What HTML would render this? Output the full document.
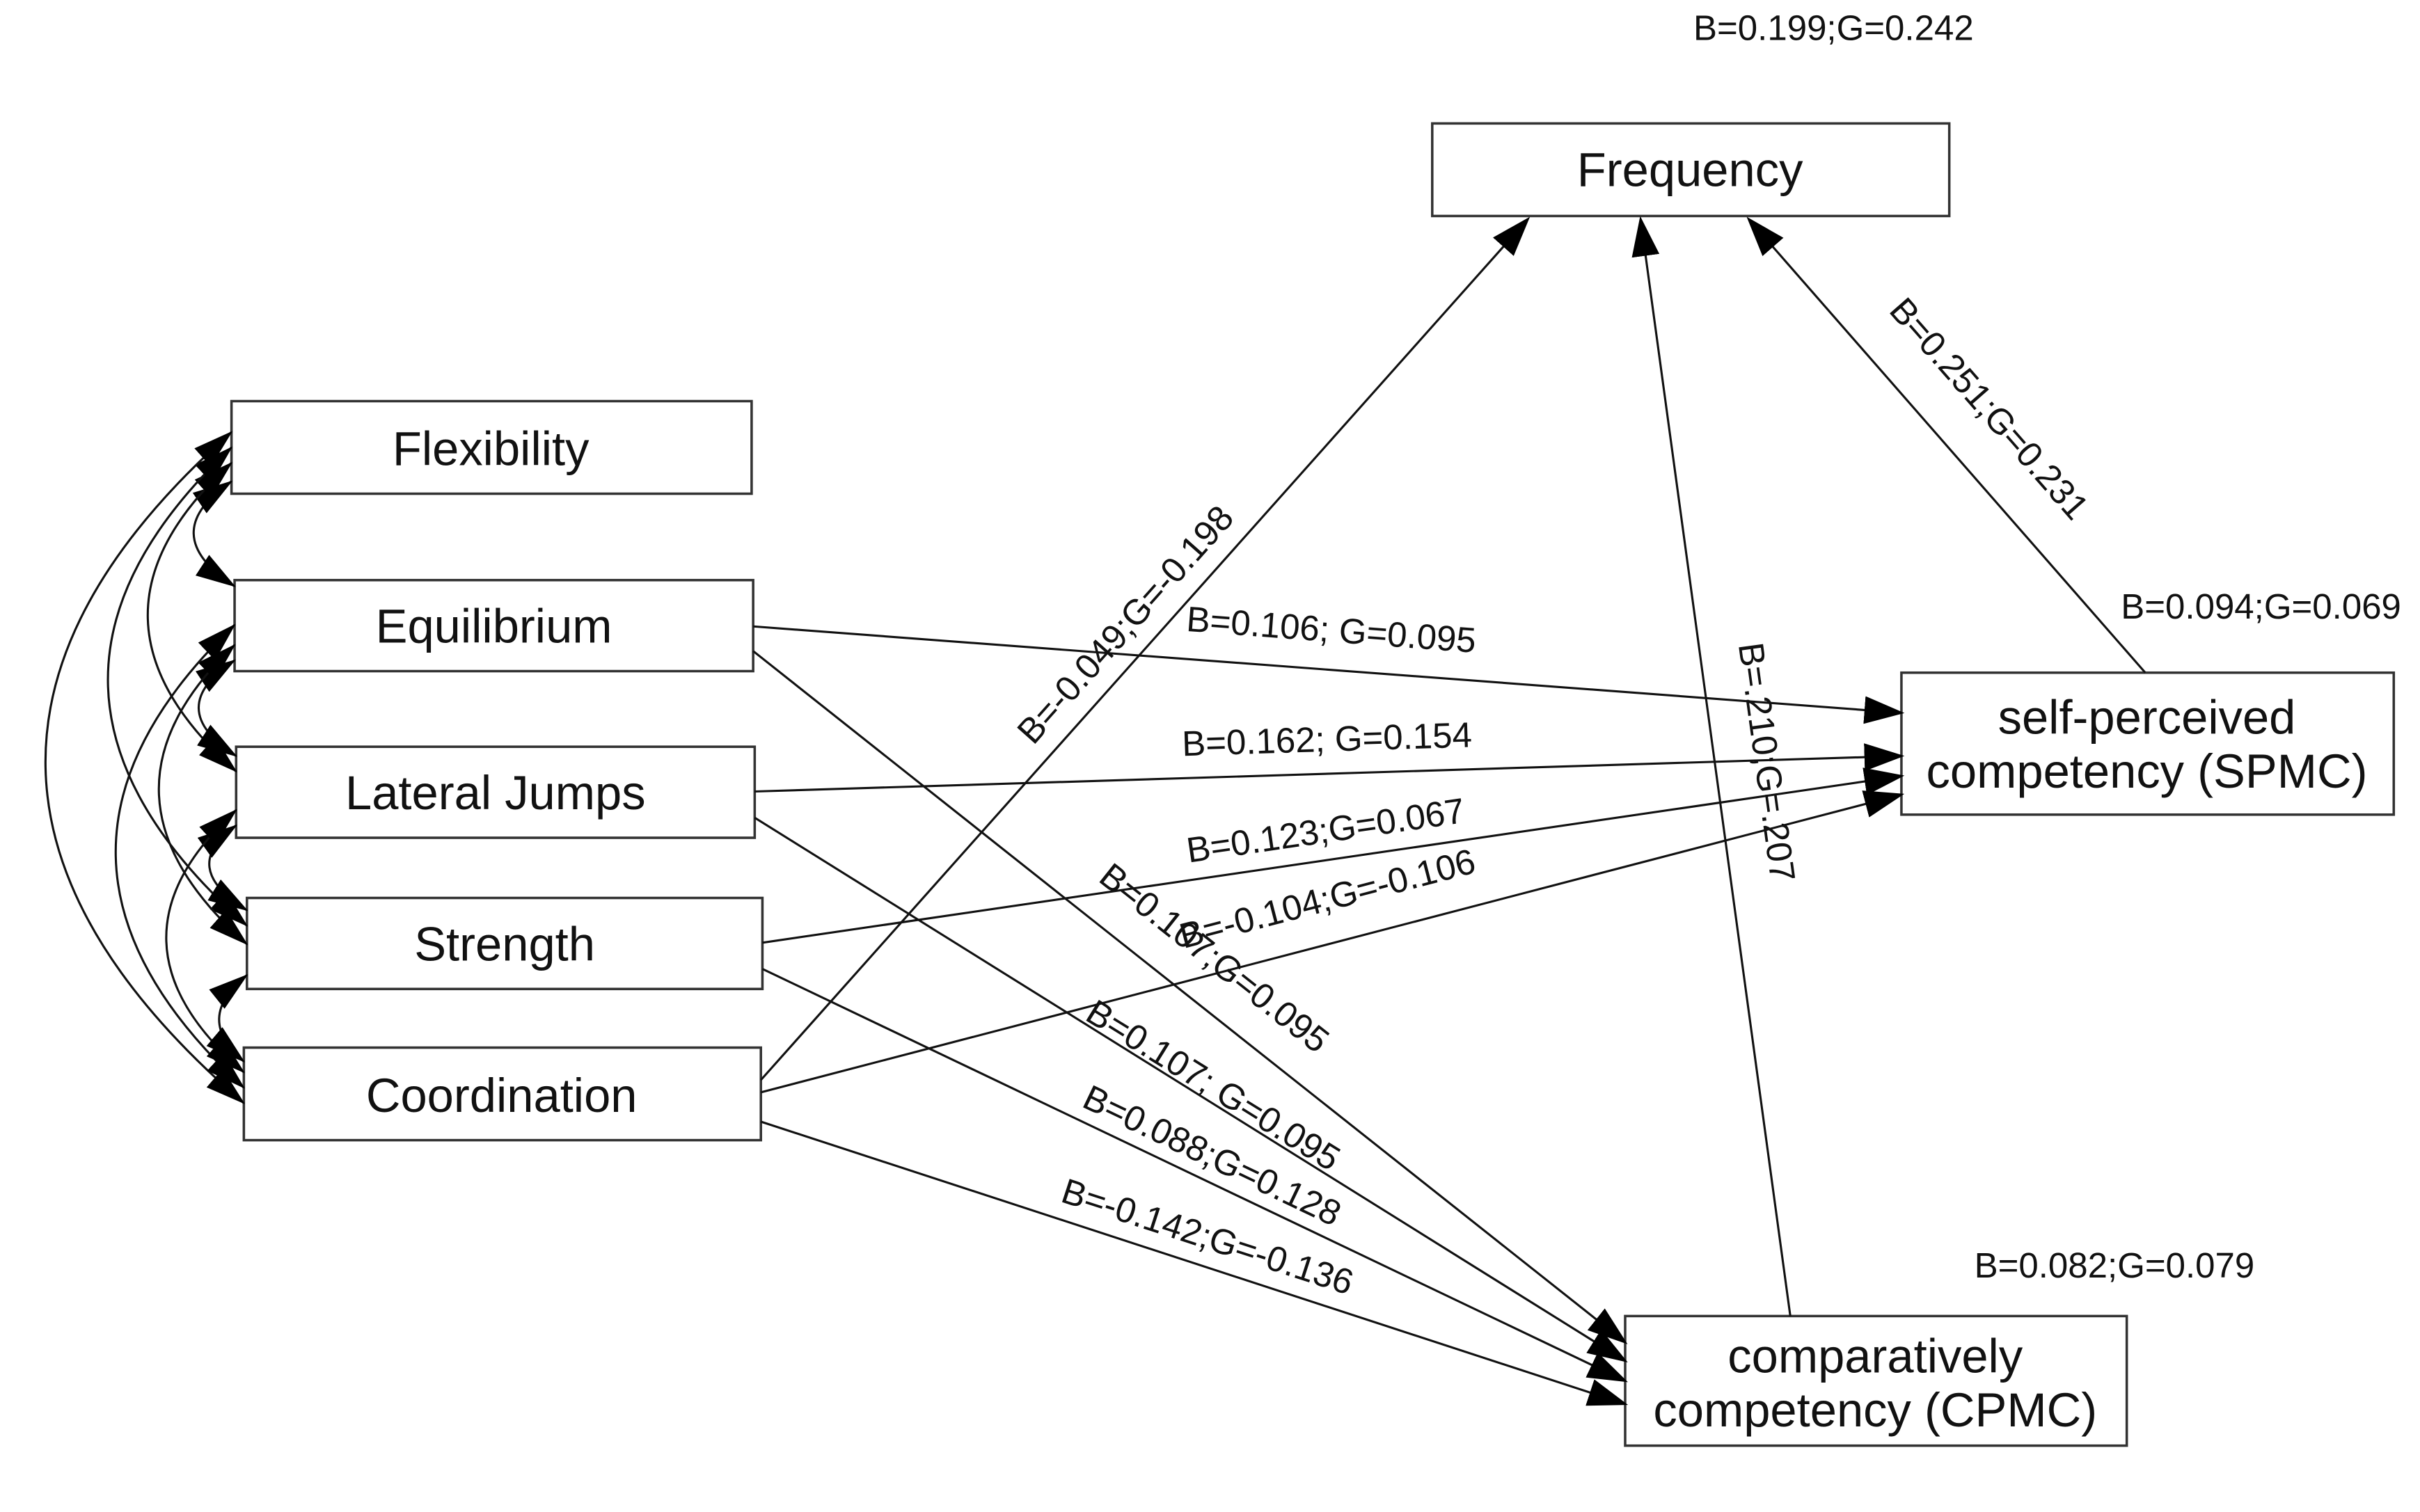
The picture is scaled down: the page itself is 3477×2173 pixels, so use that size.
<!DOCTYPE html>
<html><head><meta charset="utf-8"><style>
html,body{margin:0;padding:0;background:#fff;}
svg{display:block;}
text{font-family:"Liberation Sans",Arial,sans-serif;fill:#111;}
.n{font-size:31px;text-anchor:middle;dominant-baseline:central;}
.e{font-size:23px;text-anchor:middle;}
</style></head><body>
<svg width="3477" height="2173" viewBox="0 0 1568 980" preserveAspectRatio="none" xmlns="http://www.w3.org/2000/svg">
<defs>
<marker id="a" markerUnits="userSpaceOnUse" markerWidth="26" markerHeight="18" refX="24" refY="9" orient="auto-start-reverse">
<path d="M0,0 L26,9 L0,18 Z" fill="#000"/>
</marker>
<marker id="s" markerUnits="userSpaceOnUse" markerWidth="26" markerHeight="16" refX="25" refY="8" orient="auto-start-reverse">
<path d="M0,0 L26,8 L0,16 Z" fill="#000"/>
</marker>
</defs>
<g fill="#fff" stroke="#333" stroke-width="1.6">
<rect x="150" y="260" width="337" height="60"/>
<rect x="152" y="376" width="336" height="59"/>
<rect x="153" y="484" width="336" height="59"/>
<rect x="160" y="582" width="334" height="59"/>
<rect x="158" y="679" width="335" height="60"/>
<rect x="928" y="80" width="335" height="60"/>
<rect x="1232" y="436" width="319" height="92"/>
<rect x="1053" y="853" width="325" height="84"/>
</g>
<g fill="none" stroke="#111" stroke-width="1.4">
<path d="M150,312 Q100,346 152,380" marker-start="url(#s)" marker-end="url(#s)"/>
<path d="M150,300 Q40,400 153,500" marker-start="url(#s)" marker-end="url(#s)"/>
<path d="M150,290 Q-15,445 160,600" marker-start="url(#s)" marker-end="url(#s)"/>
<path d="M150,280 Q-95,497 158,715" marker-start="url(#s)" marker-end="url(#s)"/>
<path d="M152,428 Q105,459 153,490" marker-start="url(#s)" marker-end="url(#s)"/>
<path d="M152,418 Q50,515 160,612" marker-start="url(#s)" marker-end="url(#s)"/>
<path d="M152,405 Q-5,555 158,705" marker-start="url(#s)" marker-end="url(#s)"/>
<path d="M153,535 Q115,562 160,590" marker-start="url(#s)" marker-end="url(#s)"/>
<path d="M153,525 Q60,610 158,695" marker-start="url(#s)" marker-end="url(#s)"/>
<path d="M160,632 Q125,660 158,688" marker-start="url(#s)" marker-end="url(#s)"/>
<line x1="493" y1="700" x2="990" y2="142" marker-end="url(#a)"/>
<line x1="1160" y1="853" x2="1063" y2="142" marker-end="url(#a)"/>
<line x1="1390" y1="436" x2="1133" y2="142" marker-end="url(#a)"/>
<line x1="488" y1="406" x2="1232" y2="462" marker-end="url(#a)"/>
<line x1="489" y1="513" x2="1232" y2="490" marker-end="url(#a)"/>
<line x1="494" y1="611" x2="1232" y2="503" marker-end="url(#a)"/>
<line x1="493" y1="708" x2="1232" y2="515" marker-end="url(#a)"/>
<line x1="488" y1="422" x2="1053" y2="870" marker-end="url(#a)"/>
<line x1="489" y1="530" x2="1053" y2="882" marker-end="url(#a)"/>
<line x1="494" y1="628" x2="1053" y2="895" marker-end="url(#a)"/>
<line x1="493" y1="727" x2="1053" y2="910" marker-end="url(#a)"/>
</g>
<text class="n" x="318" y="291">Flexibility</text>
<text class="n" x="320" y="406">Equilibrium</text>
<text class="n" x="321" y="514">Lateral Jumps</text>
<text class="n" x="327" y="612">Strength</text>
<text class="n" x="325" y="710">Coordination</text>
<text class="n" x="1095" y="110">Frequency</text>
<text class="n" x="1391" y="465">self-perceived</text>
<text class="n" x="1391" y="500">competency (SPMC)</text>
<text class="n" x="1215" y="879">comparatively</text>
<text class="n" x="1215" y="914">competency (CPMC)</text>
<text class="e" x="1188" y="26">B=0.199;G=0.242</text>
<text class="e" x="1465" y="401">B=0.094;G=0.069</text>
<text class="e" x="1370" y="828">B=0.082;G=0.079</text>
<text class="e" transform="translate(735,410) rotate(-48.3)">B=-0.049;G=-0.198</text>
<text class="e" transform="translate(1137,495) rotate(82.2)">B=.210;G=.207</text>
<text class="e" transform="translate(1283,270) rotate(48.8)">B=0.251;G=0.231</text>
<text class="e" transform="translate(862,416) rotate(4.3)">B=0.106; G=0.095</text>
<text class="e" transform="translate(860,487) rotate(-1.8)">B=0.162; G=0.154</text>
<text class="e" transform="translate(860,546) rotate(-8.3)">B=0.123;G=0.067</text>
<text class="e" transform="translate(862,590) rotate(-14.6)">B=-0.104;G=-0.106</text>
<text class="e" transform="translate(782,627) rotate(38.4)">B=0.107;G=0.095</text>
<text class="e" transform="translate(782,710) rotate(31.8)">B=0.107; G=0.095</text>
<text class="e" transform="translate(782,756) rotate(25.5)">B=0.088;G=0.128</text>
<text class="e" transform="translate(780,809) rotate(18)">B=-0.142;G=-0.136</text>
</svg>
</body></html>
